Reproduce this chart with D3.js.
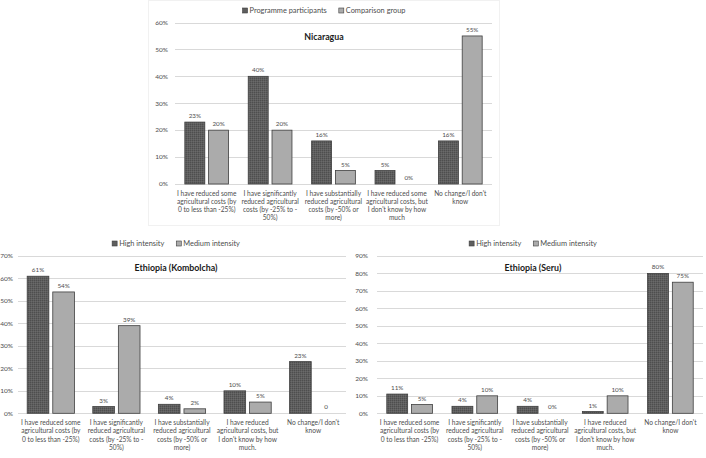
<!DOCTYPE html>
<html>
<head>
<meta charset="utf-8">
<script src="https://cdn.jsdelivr.net/npm/d3@7"></script>
<style>
  html, body { margin: 0; padding: 0; background: #fff; }
  svg { display: block; font-family: Lato, "Open Sans", sans-serif; }
</style>
</head>
<body>
<svg id="chart" width="706" height="458"></svg>
<script>
// ---------------- DATA ----------------
const nicCategories = [
  ["I have reduced some", "agricultural costs (by", "0 to less than -25%)"],
  ["I have significantly", "reduced agricultural", "costs (by -25% to -", "50%)"],
  ["I have substantially", "reduced agricultural", "costs (by -50% or", "more)"],
  ["I have reduced some", "agricultural costs, but", "I don't know by how", "much"],
  ["No change/I don't", "know"]
];
const ethCategories = [
  ["I have reduced some", "agricultural costs (by", "0 to less than -25%)"],
  ["I have significantly", "reduced agricultural", "costs (by -25% to -", "50%)"],
  ["I have substantially", "reduced agricultural", "costs (by -50% or", "more)"],
  ["I have reduced", "agricultural costs, but", "I don't know by how", "much."],
  ["No change/I don't", "know"]
];
const nicSeries = ["Programme participants", "Comparison group"];
const ethSeries = ["High intensity", "Medium intensity"];

const nicParticipants = [23, 40, 16, 5, 16];
const nicComparison   = [20, 20, 5, 0, 55];
const kombHigh        = [61, 3, 4, 10, 23];
const kombMedium      = [54, 39, 2, 5, 0];
const kombMediumLabels = ["54%", "39%", "2%", "5%", "0"];
const seruHigh        = [11, 4, 4, 1, 80];
const seruMedium      = [5, 10, 0, 10, 75];

const nicTicks  = [0, 10, 20, 30, 40, 50, 60];
const kombTicks = [0, 10, 20, 30, 40, 50, 60, 70];
const seruTicks = [0, 10, 20, 30, 40, 50, 60, 70, 80, 90];

// ---------------- STYLE ----------------
const DARK = "#5e5e5e", LIGHT = "#ababab", STROKE = "#3f3f3f";
const GRID = "#d9d9d9", TEXT = "#4d4d4d";

const svg = d3.select("#chart");
const defs = svg.append("defs");
const pat = defs.append("pattern").attr("id", "darkPat")
  .attr("patternUnits", "userSpaceOnUse").attr("width", 2).attr("height", 2);
pat.append("rect").attr("width", 2).attr("height", 2).attr("fill", DARK);
pat.append("rect").attr("width", 1).attr("height", 1).attr("fill", "#4e4e4e");
pat.append("rect").attr("x", 1).attr("y", 1).attr("width", 1).attr("height", 1).attr("fill", "#6a6a6a");

// faint panel border for top chart
svg.append("rect").attr("x", 148.5).attr("y", 0.5).attr("width", 351).attr("height", 225)
  .attr("fill", "none").attr("stroke", "#f1f1f1");

function drawChart(o) {
  const g = svg.append("g");
  const y = d3.scaleLinear().domain([0, o.ticks[o.ticks.length - 1]]).range([o.bottom, o.top]);
  const x0 = d3.scaleBand().domain(d3.range(o.cats.length)).range([o.left, o.right]);
  const band = x0.bandwidth();
  const bw = band * o.barFrac, gap = band * 0.06;

  // gridlines + tick labels
  g.selectAll(".grid").data(o.ticks).join("line")
    .attr("x1", o.left).attr("x2", o.right)
    .attr("y1", d => Math.round(y(d)) + 0.5).attr("y2", d => Math.round(y(d)) + 0.5)
    .attr("stroke", GRID).attr("stroke-width", 1);
  g.selectAll(".tick").data(o.ticks).join("text")
    .attr("x", o.left - o.labelGap).attr("y", d => y(d) + 2.3)
    .attr("text-anchor", "end").attr("font-size", 6.5).attr("fill", TEXT)
    .text(d => d + "%");

  // bars
  const seriesData = [o.a, o.b];
  seriesData.forEach((vals, si) => {
    const xs = i => x0(i) + band / 2 + (si === 0 ? -gap / 2 - bw : gap / 2);
    g.selectAll(".bar" + si).data(vals).join("rect")
      .attr("x", (d, i) => xs(i)).attr("width", bw)
      .attr("y", d => y(d)).attr("height", d => o.bottom - y(d))
      .attr("fill", si === 0 ? "url(#darkPat)" : LIGHT)
      .attr("stroke", d => d > 0 ? STROKE : "none").attr("stroke-width", 0.8);
    const labs = si === 0 ? o.aLabels : o.bLabels;
    g.selectAll(".val" + si).data(vals).join("text")
      .attr("x", (d, i) => xs(i) + bw / 2).attr("y", d => y(d) - 4)
      .attr("text-anchor", "middle").attr("font-size", 6.3).attr("fill", TEXT)
      .text((d, i) => labs ? labs[i] : d + "%");
  });

  // category labels
  o.cats.forEach((lines, i) => {
    const t = g.append("text").attr("text-anchor", "middle")
      .attr("font-size", 6.6).attr("fill", TEXT);
    lines.forEach((ln, li) => {
      t.append("tspan").attr("x", x0(i) + band / 2).attr("y", o.catY + li * o.catStep).text(ln);
    });
  });

  // title
  g.append("text").attr("x", o.center).attr("y", o.titleY).attr("text-anchor", "middle")
    .attr("font-size", 8.8).attr("font-weight", "bold").attr("fill", "#1a1a1a").text(o.title);

  // legend
  const lg = g.append("g");
  let lx = 0;
  o.series.forEach((s, si) => {
    const it = lg.append("g").attr("transform", `translate(${lx},0)`);
    it.append("rect").attr("x", 0).attr("y", -4.5).attr("width", 5).attr("height", 5)
      .attr("fill", si === 0 ? DARK : LIGHT).attr("stroke", STROKE).attr("stroke-width", 0.6);
    const tx = it.append("text").attr("x", 7).attr("y", 0).attr("font-size", 7.4)
      .attr("fill", TEXT).text(s);
    const w = tx.node().getComputedTextLength();
    lx += 7 + w + 12;
  });
  const total = lx - 12;
  lg.attr("transform", `translate(${o.center - total / 2},${o.legendY})`);
}

drawChart({
  title: "Nicaragua", cats: nicCategories, series: nicSeries,
  a: nicParticipants, b: nicComparison, ticks: nicTicks,
  left: 175, right: 492, top: 22.5, bottom: 184, barFrac: 0.315, labelGap: 7,
  catY: 195.5, catStep: 8, center: 324, titleY: 40, legendY: 12.5
});
drawChart({
  title: "Ethiopia (Kombolcha)", cats: ethCategories, series: ethSeries,
  a: kombHigh, b: kombMedium, bLabels: kombMediumLabels, ticks: kombTicks,
  left: 18, right: 346, top: 256, bottom: 413.3, barFrac: 0.33, labelGap: 5,
  catY: 424.5, catStep: 8.6, center: 176, titleY: 271, legendY: 245.5
});
drawChart({
  title: "Ethiopia (Seru)", cats: ethCategories, series: ethSeries,
  a: seruHigh, b: seruMedium, ticks: seruTicks,
  left: 377, right: 703, top: 256, bottom: 413.3, barFrac: 0.32, labelGap: 9,
  catY: 424.5, catStep: 8.6, center: 533, titleY: 271, legendY: 245.5
});
</script>
</body>
</html>
